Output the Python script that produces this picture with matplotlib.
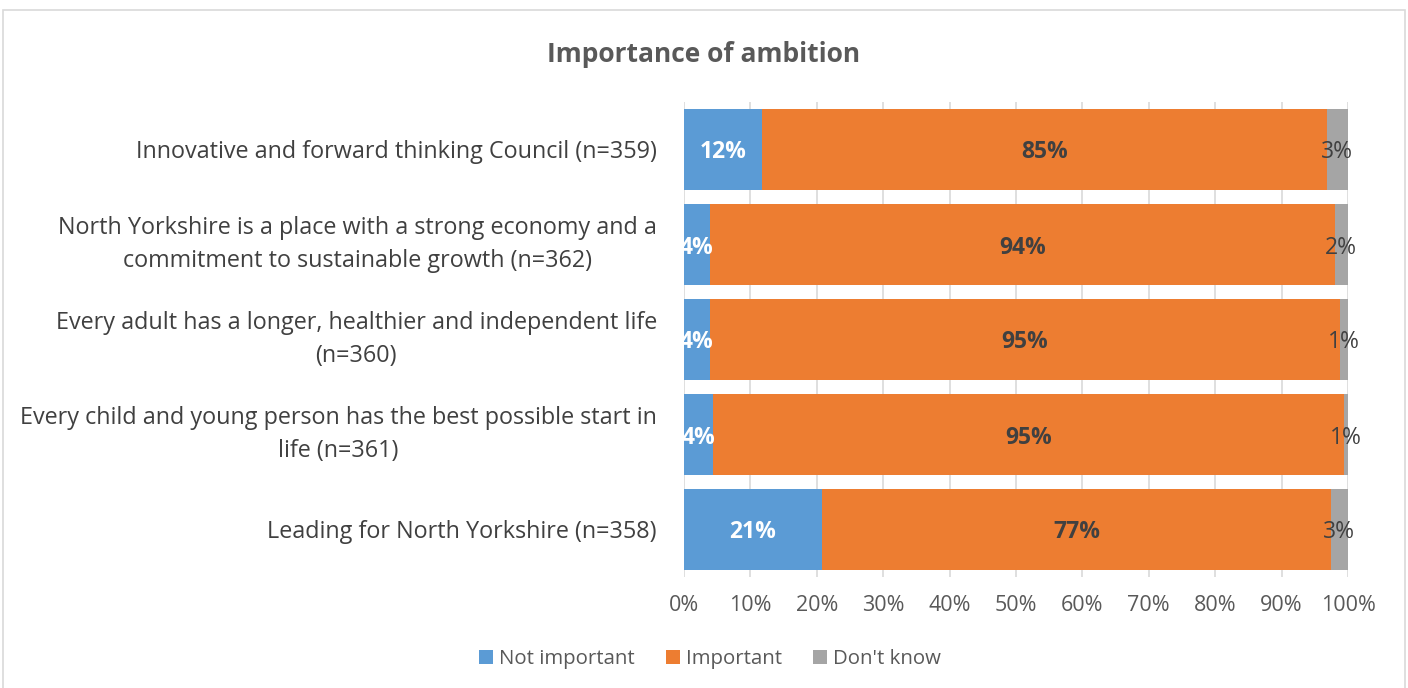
import matplotlib
matplotlib.use("Agg")
import matplotlib.pyplot as plt
from matplotlib.patches import Rectangle
from matplotlib.ticker import PercentFormatter, MultipleLocator

plt.rcParams['font.family'] = ['Open Sans', 'DejaVu Sans']

categories = [
    "Innovative and forward thinking Council (n=359)",
    "North Yorkshire is a place with a strong economy and a\ncommitment to sustainable growth (n=362)",
    "Every adult has a longer, healthier and independent life\n(n=360)",
    "Every child and young person has the best possible start in\nlife (n=361)",
    "Leading for North Yorkshire (n=358)",
]
not_important = [11.7, 3.9, 3.9, 4.4, 20.8]
important = [85.1, 94.1, 94.9, 95.0, 76.6]
dont_know = [3.2, 2.0, 1.2, 0.6, 2.6]

series = [
    ("Not important", not_important, "#5b9bd5", "white", "bold"),
    ("Important", important, "#ed7d31", "#404040", "bold"),
    ("Don't know", dont_know, "#a5a5a5", "#404040", "normal"),
]

fig = plt.figure(figsize=(14.08, 6.88), dpi=100)
fig.patch.set_facecolor("white")
fig.add_artist(Rectangle((3 / 1408, -0.01), 1402 / 1408, 1 - 10 / 688 + 0.01,
                         transform=fig.transFigure, fill=False,
                         edgecolor="#d9d9d9", linewidth=1.2))

ax = fig.add_axes([684 / 1408, 1 - 577 / 688, 664 / 1408, 475 / 688])
ypos = list(range(len(categories)))
left = [0.0] * len(categories)
for name, vals, color, tcolor, weight in series:
    ax.barh(ypos, vals, left=left, height=0.86, color=color, label=name,
            edgecolor="none", zorder=2)
    for y, v, l in zip(ypos, vals, left):
        ax.text(l + v / 2, y, f"{round(v):.0f}%", ha="center", va="center_baseline",
                color=tcolor, fontweight=weight, fontsize=16.5, zorder=3)
    left = [a + b for a, b in zip(left, vals)]

ax.set_xlim(0, 100)
ax.set_ylim(len(categories) - 0.5, -0.5)
ax.set_yticks(ypos)
ax.set_yticklabels(categories, fontsize=16.8, color="#404040", ha="right",
                   multialignment="center", linespacing=1.5)
for lbl in ax.get_yticklabels():
    if "\n" in lbl.get_text():
        lbl.set_verticalalignment("center")
ax.tick_params(axis="y", length=0, pad=19.5)
ax.xaxis.set_major_locator(MultipleLocator(10))
ax.xaxis.set_major_formatter(PercentFormatter(decimals=0))
ax.tick_params(axis="x", length=0, labelsize=15.5, labelcolor="#595959", pad=13)
ax.grid(axis="x", color="#d9d9d9", linewidth=1.2, zorder=0)
for s in ax.spines.values():
    s.set_visible(False)

fig.text(0.5, 1 - 54 / 688, "Importance of ambition", ha="center", va="center",
         fontsize=19, fontweight="bold", color="#595959")

handles, labels = ax.get_legend_handles_labels()
fig.legend(handles, labels, loc="center", bbox_to_anchor=(710 / 1408, 1 - 659 / 688),
           ncol=3, frameon=False, fontsize=14.7, labelcolor="#595959",
           handlelength=0.7, handleheight=0.7, handletextpad=0.3, columnspacing=1.5)

fig.savefig("out.png", dpi=100, facecolor="white")
